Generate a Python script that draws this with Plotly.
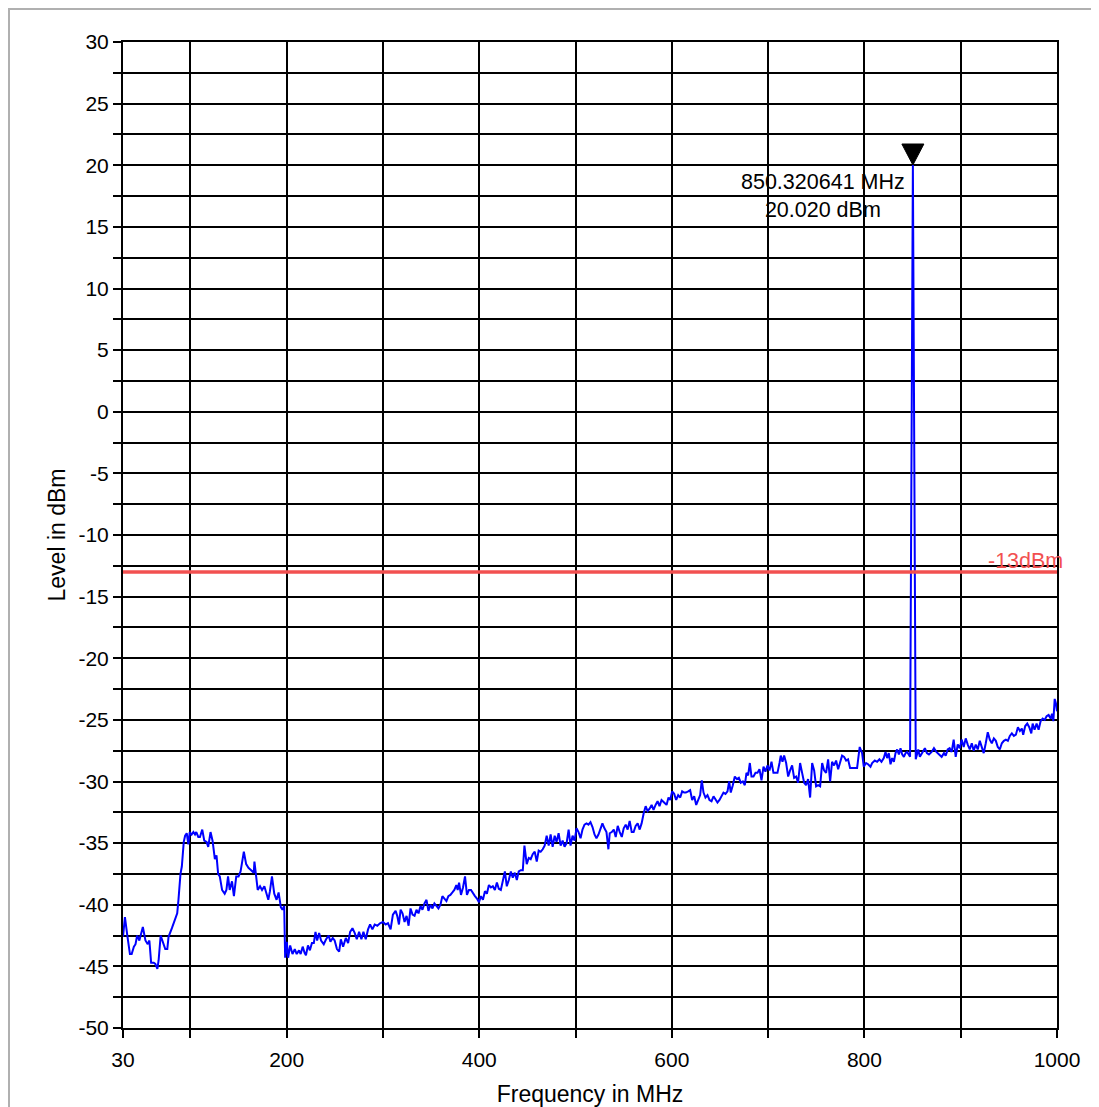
import plotly.graph_objects as go

# ---- data ----
freq_mhz = [
    30.0, 32.0, 34.5, 37.2, 39.0, 41.3, 43.0, 44.7, 47.0, 50.6, 53.3, 55.7, 57.4, 59.2, 61.9, 63.6, 65.7, 67.0, 69.1, 71.5,
    73.9, 76.0, 77.3, 80.8, 84.2, 86.3, 87.6, 89.7, 91.1, 93.1, 94.5, 96.2, 97.9, 99.3, 101.3, 103.1, 104.8, 106.1, 108.2, 109.9,
    112.3, 114.4, 116.8, 118.5, 120.9, 123.0, 125.4, 127.1, 128.8, 130.5, 132.9, 135.6, 137.4, 139.1, 140.8, 143.2, 145.2, 147.6, 150.0, 152.1,
    153.8, 155.5, 157.9, 160.3, 163.1, 165.8, 166.5, 168.2, 169.9, 172.3, 174.4, 176.8, 178.9, 180.9, 182.6, 184.7, 187.1, 189.5, 191.6, 193.9,
    195.6, 197.4, 198.4, 200.1, 201.5, 203.6, 206.0, 208.4, 210.4, 212.8, 214.5, 216.6, 218.6, 220.0, 222.1, 224.1, 226.2, 228.2, 229.9, 231.6,
    233.7, 235.7, 238.5, 240.9, 243.6, 245.4, 247.8, 249.8, 252.2, 254.5, 256.2, 258.6, 261.4, 263.8, 265.9, 268.3, 270.7, 272.8, 275.2, 277.6,
    279.7, 282.1, 284.5, 286.6, 289.0, 291.4, 294.1, 296.9, 300.0, 302.8, 305.2, 307.9, 310.3, 313.1, 314.8, 316.6, 318.3, 320.3, 322.4, 324.5,
    326.6, 328.6, 330.7, 332.8, 334.8, 336.9, 339.0, 341.0, 343.1, 345.2, 347.2, 349.3, 351.4, 353.4, 355.5, 357.6, 359.7, 361.7, 363.8, 365.9,
    367.9, 370.0, 372.1, 374.1, 376.2, 377.6, 379.0, 381.0, 383.1, 385.2, 387.2, 389.3, 391.4, 393.4, 395.5, 397.6, 399.7, 401.7, 403.8, 405.9,
    407.9, 410.0, 412.1, 414.1, 416.2, 418.3, 420.3, 422.4, 424.5, 426.6, 428.6, 430.7, 432.8, 434.8, 436.9, 439.0, 441.0, 443.1, 445.2, 446.9,
    449.3, 451.4, 453.4, 455.5, 457.6, 459.7, 461.7, 463.8, 465.9, 467.9, 470.0, 472.1, 474.1, 476.2, 478.3, 480.3, 482.4, 484.5, 486.6, 488.6,
    490.7, 492.8, 494.8, 496.9, 499.0, 501.0, 503.1, 505.2, 507.2, 509.3, 511.4, 513.4, 515.5, 517.6, 519.7, 521.7, 523.8, 525.9, 527.9, 530.0,
    532.1, 534.1, 535.5, 537.6, 539.7, 541.7, 543.8, 545.9, 548.0, 550.0, 552.1, 554.1, 556.2, 558.3, 560.3, 562.4, 564.5, 566.6, 568.6, 570.7,
    572.8, 574.8, 576.9, 579.0, 581.0, 583.1, 585.2, 587.2, 589.3, 592.0, 594.5, 596.5, 598.3, 600.3, 602.4, 604.5, 606.6, 608.7, 610.7, 612.8,
    614.5, 617.0, 619.0, 621.1, 623.2, 625.3, 627.3, 629.4, 631.1, 632.9, 634.9, 637.0, 639.1, 641.2, 643.3, 645.3, 647.4, 649.5, 651.6, 653.6,
    655.7, 657.8, 659.5, 661.2, 663.3, 665.4, 667.5, 669.6, 671.6, 673.7, 675.8, 677.5, 679.2, 681.0, 682.7, 684.8, 686.9, 688.9, 691.0, 693.1,
    695.2, 697.2, 699.3, 701.4, 703.5, 705.5, 707.6, 709.7, 711.8, 713.1, 714.9, 716.6, 718.7, 720.8, 722.8, 724.9, 727.0, 729.1, 731.1, 733.2,
    735.3, 737.4, 739.4, 741.5, 743.6, 745.7, 747.8, 749.8, 751.9, 754.0, 756.1, 758.1, 760.2, 762.3, 764.4, 766.4, 768.5, 770.6, 772.7, 774.7,
    776.8, 778.9, 781.0, 783.0, 785.1, 787.2, 789.9, 792.4, 795.1, 797.6, 799.3, 801.7, 803.8, 806.3, 808.0, 810.8, 813.2, 815.6, 817.7, 820.1,
    821.9, 823.6, 825.3, 827.1, 828.8, 830.6, 832.3, 834.0, 835.8, 837.5, 839.2, 841.0, 842.7, 844.4, 847.4, 850.320641, 853.3, 855.9, 857.6, 860.1,
    862.8, 864.9, 867.0, 869.8, 872.2, 874.7, 877.4, 880.2, 882.6, 884.4, 886.5, 888.5, 890.6, 892.7, 894.8, 896.9, 899.0, 901.0, 903.1, 905.2,
    907.3, 909.4, 911.5, 913.5, 915.6, 917.7, 919.8, 921.9, 923.9, 926.0, 928.1, 930.2, 932.3, 934.4, 936.5, 938.5, 940.6, 942.7, 944.8, 946.9,
    949.0, 951.0, 953.1, 955.2, 957.3, 959.4, 961.5, 963.5, 964.9, 967.0, 969.1, 971.2, 973.3, 974.7, 976.7, 978.8, 980.9, 983.0, 985.1, 987.2,
    989.2, 991.3, 993.4, 994.8, 996.2, 997.6, 999.0, 1000.0,
]
level_dbm = [
    -42.6, -41.0, -42.5, -44.0, -44.0, -43.4, -43.2, -42.5, -42.9, -41.8, -42.9, -43.2, -42.9, -44.7, -44.7, -44.8, -45.2, -44.5, -42.5, -43.0,
    -43.6, -43.6, -42.6, -41.9, -41.2, -40.7, -39.6, -37.5, -36.9, -34.9, -34.4, -34.2, -35.1, -34.1, -34.3, -34.1, -34.3, -34.1, -34.5, -34.5,
    -33.9, -34.8, -34.9, -35.3, -34.1, -34.8, -36.3, -36.0, -37.5, -37.7, -38.8, -39.1, -38.8, -37.7, -38.8, -38.1, -39.3, -37.7, -37.7, -37.3,
    -36.5, -35.7, -36.7, -37.0, -37.2, -37.4, -36.5, -37.8, -38.8, -38.5, -38.8, -38.5, -39.1, -39.6, -38.9, -37.7, -39.1, -39.6, -39.0, -40.2,
    -40.4, -40.1, -44.3, -43.0, -44.3, -43.3, -44.0, -43.6, -44.0, -43.7, -44.0, -43.4, -43.9, -44.1, -43.3, -43.7, -43.1, -43.1, -42.2, -42.9,
    -42.3, -42.9, -43.2, -42.8, -42.5, -43.0, -42.7, -42.9, -43.6, -43.8, -42.8, -43.4, -42.7, -43.1, -42.2, -41.9, -42.3, -42.8, -42.2, -42.8,
    -42.2, -42.8, -42.0, -41.6, -42.0, -41.6, -41.7, -41.5, -41.4, -41.6, -41.5, -42.0, -40.8, -40.5, -40.9, -41.6, -40.4, -40.7, -41.4, -40.9,
    -41.7, -40.3, -40.8, -40.9, -40.4, -40.7, -40.1, -40.4, -39.9, -39.6, -40.5, -40.0, -40.3, -39.9, -40.1, -40.3, -40.0, -39.3, -39.5, -39.7,
    -39.3, -39.2, -39.0, -38.8, -38.4, -38.8, -38.2, -39.2, -38.6, -37.7, -39.2, -38.8, -38.8, -39.1, -39.3, -39.5, -39.8, -39.3, -39.6, -38.9,
    -39.1, -38.4, -38.6, -38.5, -38.8, -38.2, -38.7, -38.8, -38.0, -37.3, -38.5, -38.0, -37.3, -37.8, -37.4, -38.0, -37.3, -37.2, -37.2, -35.2,
    -36.7, -36.2, -36.3, -35.9, -35.7, -36.5, -35.6, -35.7, -35.5, -35.2, -34.4, -35.2, -34.3, -35.3, -34.4, -34.9, -34.2, -35.2, -34.8, -35.3,
    -35.0, -33.9, -35.2, -34.4, -34.8, -33.8, -34.1, -34.6, -33.9, -33.5, -33.4, -33.5, -33.3, -33.7, -34.3, -34.6, -34.3, -33.9, -33.4, -33.8,
    -34.1, -35.5, -34.2, -34.1, -33.9, -34.5, -33.6, -34.1, -34.5, -33.8, -33.5, -33.9, -33.2, -34.1, -34.1, -33.6, -33.4, -33.9, -33.4, -32.6,
    -32.0, -32.4, -32.2, -31.9, -32.3, -31.9, -31.6, -32.0, -31.5, -31.7, -31.9, -31.3, -31.5, -30.8, -31.0, -31.5, -31.1, -31.3, -30.8, -30.9,
    -30.9, -30.8, -30.7, -31.5, -31.2, -31.9, -31.5, -31.1, -29.9, -30.9, -31.3, -31.1, -31.5, -31.6, -31.2, -31.4, -31.7, -31.5, -31.2, -30.9,
    -31.0, -30.8, -30.0, -30.9, -30.3, -29.6, -29.8, -29.7, -30.1, -30.0, -30.3, -29.3, -29.5, -28.5, -29.6, -29.6, -29.3, -29.3, -29.0, -29.9,
    -28.8, -29.2, -28.7, -29.1, -28.4, -29.3, -29.3, -29.3, -28.5, -27.9, -28.4, -27.9, -28.5, -29.6, -29.1, -28.7, -29.7, -29.6, -30.1, -28.5,
    -29.3, -30.1, -30.3, -29.8, -31.3, -28.5, -29.1, -30.4, -30.3, -30.4, -28.5, -29.1, -29.3, -28.2, -30.0, -28.4, -28.7, -28.3, -29.0, -28.5,
    -27.9, -28.0, -28.3, -28.2, -28.9, -28.9, -28.9, -28.9, -27.2, -27.7, -28.8, -28.5, -28.6, -28.8, -28.5, -28.3, -28.4, -28.2, -28.4, -28.1,
    -27.6, -28.1, -27.7, -28.6, -28.1, -28.4, -27.7, -27.4, -27.8, -27.3, -27.8, -28.0, -27.7, -27.6, -28.0, 20.02, -28.2, -27.4, -28.0, -27.7,
    -27.3, -27.7, -27.8, -27.6, -27.3, -27.6, -27.8, -28.0, -27.7, -27.9, -27.4, -27.3, -27.6, -26.6, -28.0, -27.0, -27.3, -26.6, -27.2, -26.5,
    -27.0, -27.4, -26.9, -27.5, -27.0, -27.4, -26.7, -27.2, -27.7, -26.9, -26.0, -26.6, -26.9, -26.5, -26.7, -27.2, -27.4, -26.9, -26.7, -26.6,
    -26.7, -26.3, -26.1, -26.3, -26.2, -25.6, -25.9, -25.7, -26.2, -25.5, -25.3, -25.6, -26.1, -25.3, -25.8, -25.3, -25.8, -25.1, -24.9, -25.0,
    -24.7, -24.6, -24.9, -24.5, -25.1, -23.3, -23.7, -24.3,
]
limit_dbm = -13
limit_label = "-13dBm"
peak_freq = 850.320641
peak_level = 20.020
x_tick_vals = [30, 200, 400, 600, 800, 1000]
x_minor_vals = [100, 300, 500, 700, 900]
y_tick_vals = [-50, -45, -40, -35, -30, -25, -20, -15, -10, -5, 0, 5, 10, 15, 20, 25, 30]
y_tick_text = [str(v) for v in y_tick_vals]
y_minor_vals = [-47.5, -42.5, -37.5, -32.5, -27.5, -22.5, -17.5, -12.5, -7.5, -2.5, 2.5, 7.5, 12.5, 17.5, 22.5, 27.5]
y_range = [-50, 30]
x_range = [30, 1000]

FONT = "Liberation Sans, Arial, sans-serif"
FS_TICK = 21
FS_TEXT = 21.5
FS_TITLE = 23

# figure geometry (page has an 8px body margin)
W, H = 1091, 1099
ML, MR, MT, MB = 115, 42, 34, 79
PW, PH = W - ML - MR, H - MT - MB

fig = go.Figure()
fig.add_trace(go.Scatter(x=freq_mhz, y=level_dbm, mode="lines",
                         line=dict(color="#0000ff", width=2), showlegend=False, hoverinfo="x+y"))
fig.add_trace(go.Scatter(x=x_range, y=[limit_dbm, limit_dbm], mode="lines",
                         line=dict(color="#f25050", width=3.5), showlegend=False))

# limit label
fig.add_annotation(x=x_range[1], y=limit_dbm, text=limit_label, showarrow=False,
                   xanchor="right", yanchor="bottom", xshift=8, yshift=-3,
                   font=dict(family=FONT, size=FS_TEXT, color="#f25050"))
# marker label
fig.add_annotation(x=757, y=17.5, text=f"{peak_freq:.6f} MHz<br>{peak_level:.3f} dBm",
                   showarrow=False, xanchor="center", yanchor="middle", align="center",
                   font=dict(family=FONT, size=FS_TEXT, color="black"))
# marker triangle (tip at the peak)
fig.add_shape(type="path", xref="x", yref="y", xsizemode="pixel", ysizemode="pixel",
              xanchor=peak_freq, yanchor=peak_level,
              path="M-11,21 L11,21 L0,0 Z", fillcolor="black", line=dict(color="black", width=1))
# outer frame
fig.add_shape(type="rect", xref="paper", yref="paper",
              x0=(1 - ML) / PW, x1=(1089 - ML) / PW,
              y0=-(H + 5 - MT - PH) / PH, y1=(MT + PH - 1) / PH,
              line=dict(color="#b0b0b0", width=2), fillcolor="rgba(0,0,0,0)", layer="below")

fig.update_layout(
    width=W, height=H,
    margin=dict(l=ML, r=MR, t=MT, b=MB, autoexpand=False),
    paper_bgcolor="white", plot_bgcolor="white",
    font=dict(family=FONT, size=FS_TICK, color="black"),
    xaxis=dict(range=x_range, tickmode="array", tickvals=x_tick_vals, automargin=False,
               ticks="outside", ticklen=8, tickwidth=2, tickcolor="black",
               ticklabelstandoff=4,
               showgrid=True, gridcolor="black", gridwidth=2,
               showline=True, linecolor="black", linewidth=2, mirror=True,
               zeroline=False,
               minor=dict(tickmode="array", tickvals=x_minor_vals, ticks="outside", ticklen=8,
                          tickwidth=2, tickcolor="black", showgrid=True, gridcolor="black", gridwidth=2),
               title=dict(text="Frequency in MHz", standoff=16, font=dict(size=FS_TITLE)),
               tickfont=dict(size=FS_TICK)),
    yaxis=dict(range=y_range, tickmode="array", tickvals=y_tick_vals, ticktext=y_tick_text, automargin=False,
               ticks="outside", ticklen=8, tickwidth=2, tickcolor="black",
               showgrid=True, gridcolor="black", gridwidth=2,
               showline=True, linecolor="black", linewidth=2, mirror=True,
               zeroline=False,
               minor=dict(tickmode="array", tickvals=y_minor_vals, ticks="outside", ticklen=8, tickwidth=2,
                          tickcolor="black", showgrid=True, gridcolor="black", gridwidth=2),
               title=dict(text="Level in dBm", standoff=6, font=dict(size=FS_TITLE)),
               tickfont=dict(size=FS_TICK)),
)

fig.write_html("out.html")
